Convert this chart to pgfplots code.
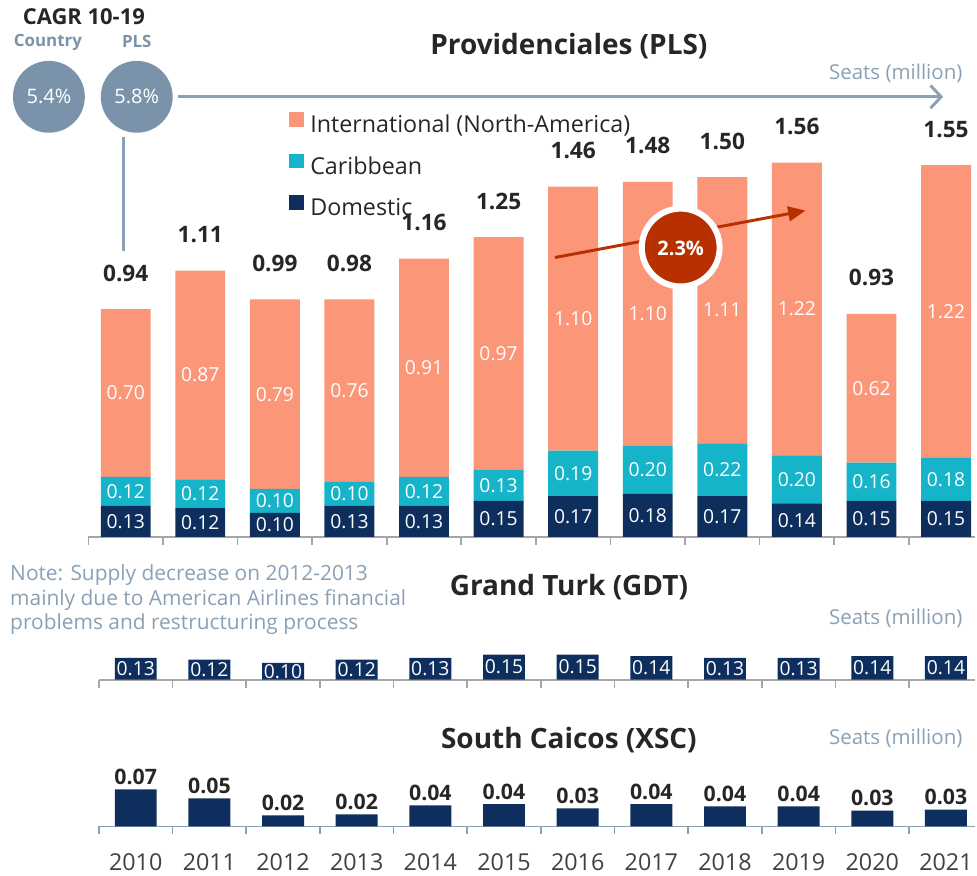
\documentclass[border=0pt]{standalone}
\usepackage{pgfplots}
\pgfplotsset{compat=1.18}
\usepackage{pgfplotstable}
\usepackage{fontspec}
\setmainfont{Open Sans}
\usetikzlibrary{arrows.meta}

\definecolor{intl}{RGB}{252,150,120}
\definecolor{carib}{RGB}{22,180,200}
\definecolor{dom}{RGB}{14,47,94}
\definecolor{circ}{RGB}{123,147,170}
\definecolor{seat}{RGB}{138,160,181}
\definecolor{growth}{RGB}{184,48,0}
\definecolor{dark}{RGB}{38,38,38}
\definecolor{axgray}{RGB}{166,166,166}
\definecolor{yeargray}{RGB}{64,64,64}

\pgfplotstableread{
x year dom car intl total
0 2010 0.13 0.12 0.70 0.94
1 2011 0.12 0.12 0.87 1.11
2 2012 0.10 0.10 0.79 0.99
3 2013 0.13 0.10 0.76 0.98
4 2014 0.13 0.12 0.91 1.16
5 2015 0.15 0.13 0.97 1.25
6 2016 0.17 0.19 1.10 1.46
7 2017 0.18 0.20 1.10 1.48
8 2018 0.17 0.22 1.11 1.50
9 2019 0.14 0.20 1.22 1.56
10 2020 0.15 0.16 0.62 0.93
11 2021 0.15 0.18 1.22 1.55
}\pls

\pgfplotstableread{
x gdt
0 0.13
1 0.12
2 0.10
3 0.12
4 0.13
5 0.15
6 0.15
7 0.14
8 0.13
9 0.13
10 0.14
11 0.14
}\gdt

\pgfplotstableread{
x xsc lab
0 0.070 0.07
1 0.053 0.05
2 0.021 0.02
3 0.023 0.02
4 0.040 0.04
5 0.042 0.04
6 0.034 0.03
7 0.042 0.04
8 0.038 0.04
9 0.038 0.04
10 0.030 0.03
11 0.032 0.03
}\xsc

\pgfplotsset{
  panel/.style={
    scale only axis, clip=false,
    axis y line=none, axis x line*=bottom,
    x axis line style={-, draw=#1, line width=1.3pt},
    every outer x axis line/.append style={-},
    xtick={-0.5,0.5,1.5,2.5,3.5,4.5,5.5,6.5,7.5,8.5,9.5,10.5,11.5},
    xticklabels={},
    tick align=outside,
    major tick length=6pt,
    x tick style={draw=#1, line width=1.3pt},
    ymin=0,
  },
  seglab/.style={draw=none, mark=none, nodes near coords, point meta=explicit symbolic,
    every node near coord/.style={anchor=center, text=white, font=\fontsize{14.5}{16}\selectfont}},
}

\begin{document}
\begin{tikzpicture}
\begin{scope}[x=0.75pt, y=-0.75pt]
\useasboundingbox (0,0) rectangle (977,876);
\end{scope}

% ---------- Providenciales ----------
\begin{axis}[panel=axgray,
  at={(66.45pt,-403.5pt)}, anchor=south west,
  width=666.3pt, height=281.25pt,
  xmin=-0.5, xmax=11.39, ymax=1.56,
  ybar stacked, bar width=37.5pt,
  reverse legend,
  legend style={at={(0.2255,1.136)}, anchor=north west, draw=none, fill=none,
    inner sep=0pt, row sep=14pt, font=\fontsize{17.5}{19}\selectfont,
    nodes={inner sep=0pt, text=dark},
    /tikz/every odd column/.append style={column sep=5pt}},
  legend cell align=left,
  legend image code/.code={\fill[#1] (0pt,-1.5pt) rectangle (11.25pt,9.75pt);},
]
\addplot[fill=dom, draw=none] table[x=x, y=dom] {\pls};
\addlegendentry{Domestic}
\addplot[fill=carib, draw=none] table[x=x, y=car] {\pls};
\addlegendentry{Caribbean}
\addplot[fill=intl, draw=none] table[x=x, y=intl] {\pls};
\addlegendentry{International (North-America)}
\end{axis}

\begin{axis}[scale only axis, hide axis, clip=false,
  at={(66.45pt,-403.5pt)}, anchor=south west,
  width=666.3pt, height=281.25pt,
  xmin=-0.5, xmax=11.39, ymin=0, ymax=1.56]
\addplot[seglab] table[x=x, y expr=\thisrow{dom}/2, meta=dom] {\pls};
\addplot[seglab] table[x=x, y expr=\thisrow{dom}+\thisrow{car}/2, meta=car] {\pls};
\addplot[seglab] table[x=x, y expr=\thisrow{dom}+\thisrow{car}+\thisrow{intl}/2, meta=intl] {\pls};
\addplot[draw=none, mark=none, nodes near coords, point meta=explicit symbolic,
  every node near coord/.style={anchor=center, yshift=27pt, text=dark, font=\bfseries\fontsize{17}{18}\selectfont}]
  table[x=x, y expr=\thisrow{dom}+\thisrow{car}+\thisrow{intl}, meta=total] {\pls};
\end{axis}

% ---------- Grand Turk ----------
\begin{axis}[panel=axgray,
  at={(74.325pt,-510.75pt)}, anchor=south west,
  width=658.4pt, height=18.9pt,
  xmin=-0.5, xmax=11.396, ymax=0.15]
\addplot[ybar, bar width=31.5pt, fill=dom, draw=none] table[x=x, y=gdt] {\gdt};
\addplot[seglab] table[x=x, y expr=\thisrow{gdt}/2, meta=gdt] {\gdt};
\end{axis}

% ---------- South Caicos ----------
\begin{axis}[panel=seat,
  at={(74.325pt,-621pt)}, anchor=south west,
  width=658.4pt, height=27.8pt,
  xmin=-0.5, xmax=11.396, ymax=0.07,
  extra x ticks={0,1,2,3,4,5,6,7,8,9,10,11},
  extra x tick labels={2010,2011,2012,2013,2014,2015,2016,2017,2018,2019,2020,2021},
  extra x tick style={major tick length=0pt,
    tick label style={font=\fontsize{17.5}{19}\selectfont, text=yeargray, yshift=-17pt}},
]
\addplot[ybar, bar width=31.5pt, fill=dom, draw=none,
  nodes near coords, point meta=explicit symbolic,
  every node near coord/.style={anchor=south, text=dark, font=\bfseries\fontsize{16}{17}\selectfont}]
  table[x=x, y=xsc, meta=lab] {\xsc};
\end{axis}

% ---------- annotations ----------
\begin{scope}[x=0.75pt, y=-0.75pt]
\node[font=\bfseries\fontsize{16.5}{18}\selectfont, text=dark] at (84,17) {CAGR 10-19};
\node[font=\bfseries\fontsize{12.7}{14}\selectfont, text=circ] at (48,42) {Country};
\node[font=\bfseries\fontsize{12.7}{14}\selectfont, text=circ] at (137,42) {PLS};
\fill[circ] (49,97) circle[radius=27pt];
\fill[circ] (137,97) circle[radius=27pt];
\node[text=white, font=\fontsize{15}{16}\selectfont] at (49,97) {5.4\%};
\node[text=white, font=\fontsize{15}{16}\selectfont] at (137,97) {5.8\%};
\draw[seat, line width=2.2pt, -{Straight Barb[length=8pt, width=17pt, line width=2.2pt]}] (178,97) -- (945,97);
\draw[seat, line width=2.2pt] (124,137) -- (124,251);
\node[anchor=east, text=seat, font=\fontsize{15.4}{17}\selectfont] at (969,73) {Seats (million)};
\node[font=\bfseries\fontsize{21}{24}\selectfont, text=dark] at (570,46) {Providenciales (PLS)};

\draw[growth, line width=2.2pt, -{Triangle[length=13pt, width=11pt]}] (556,258) -- (807,211);
\fill[growth, draw=white, line width=4.5pt] (682,248) circle[radius=29.25pt];
\node[text=white, font=\bfseries\fontsize{15}{16}\selectfont] at (682,249) {2.3\%};

\node[font=\bfseries\fontsize{21}{24}\selectfont, text=dark] at (570,588) {Grand Turk (GDT)};
\node[anchor=east, text=seat, font=\fontsize{15.4}{17}\selectfont] at (969,620) {Seats (million)};
\node[anchor=north west, align=left, inner sep=0pt, text=seat, font=\fontsize{15.7}{18.75}\selectfont] at (10,565)
  {Note: Supply decrease on 2012-2013\\mainly due to American Airlines financial\\problems and restructuring process};

\node[font=\bfseries\fontsize{21}{24}\selectfont, text=dark] at (570,741) {South Caicos (XSC)};
\node[anchor=east, text=seat, font=\fontsize{15.4}{17}\selectfont] at (969,740) {Seats (million)};
\end{scope}
\end{tikzpicture}
\end{document}
